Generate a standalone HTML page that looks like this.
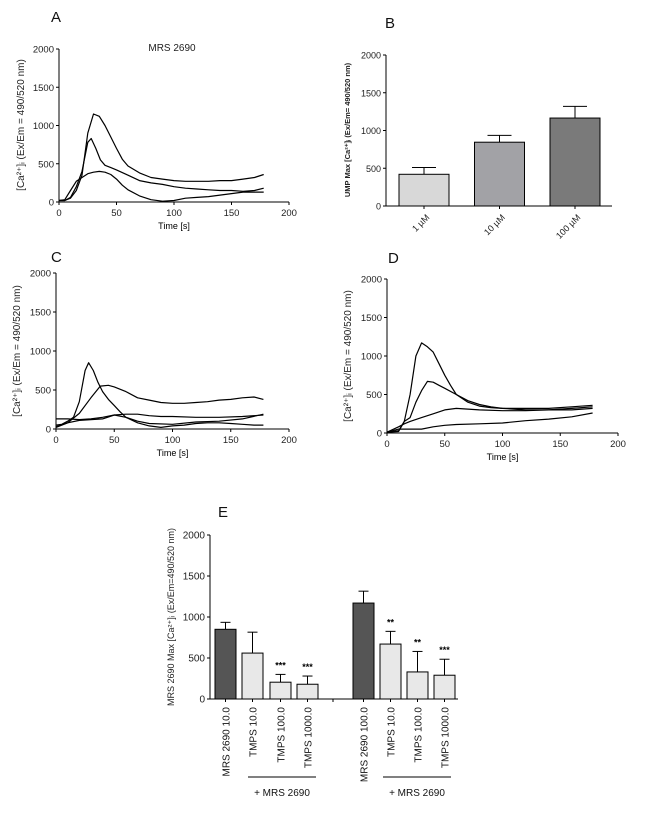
<!DOCTYPE html>
<html><head><meta charset="utf-8"><style>
body{margin:0;background:#fff;}
svg{display:block;font-family:"Liberation Sans",Arial,sans-serif;}
</style></head><body>
<svg id="fig" width="650" height="817" viewBox="0 0 650 817"></svg>
<script>
// ---- Data ----
const tA1=[0,5,10,15,20,25,30,35,40,45,50,55,60,70,80,90,100,110,120,130,140,150,160,170,178];
const vA1=[20,20,50,150,350,900,1150,1120,1000,850,700,560,470,380,320,300,280,270,270,270,280,280,300,320,360];
const tA2=[0,5,10,15,20,25,28,32,36,40,45,50,60,70,80,90,100,110,120,130,140,150,160,170,178];
const vA2=[20,20,60,200,400,780,830,700,550,480,450,420,350,280,250,230,200,180,170,160,150,150,140,150,180];
const tA3=[0,5,10,15,20,25,30,35,40,45,50,55,60,70,80,90,100,110,120,130,140,150,160,170,178];
const vA3=[20,30,150,270,320,370,390,400,390,360,300,220,160,80,30,10,20,50,60,70,90,110,130,130,130];
const tC1=[0,5,10,15,20,25,28,32,36,40,45,50,55,60,70,80,90,100,110,120,130,140,150,160,170,178];
const vC1=[50,60,100,150,350,750,850,750,600,480,380,300,220,150,80,40,20,40,50,70,80,80,70,60,50,50];
const tC2=[0,10,20,30,38,45,50,60,70,80,90,100,110,120,130,140,150,160,170,178];
const vC2=[30,80,200,400,550,560,540,480,400,370,340,330,330,340,350,370,380,400,410,380];
const tC3=[0,10,20,30,40,50,60,70,80,90,100,120,140,160,178];
const vC3=[130,130,120,130,150,180,190,190,170,160,160,150,150,160,180];
const tC4=[0,10,20,30,40,50,60,70,80,100,120,140,160,178];
const vC4=[20,80,110,120,130,180,150,100,70,60,90,100,130,190];
const tD1=[0,10,15,20,25,30,35,40,45,50,55,60,65,70,80,90,100,120,140,160,178];
const vD1=[10,20,150,500,1000,1170,1120,1050,900,750,620,500,450,400,350,330,320,320,320,340,360];
const tD2=[0,10,15,20,25,30,35,40,45,50,60,70,80,90,100,120,140,160,178];
const vD2=[10,30,150,200,400,550,670,660,620,580,500,420,370,340,320,300,300,320,340];
const tD3=[0,10,15,20,30,40,50,60,70,80,100,120,140,160,178];
const vD3=[10,80,120,150,200,250,300,320,310,300,290,290,300,300,320];
const tD4=[0,10,20,30,40,50,60,80,100,120,140,160,178];
const vD4=[10,50,50,50,80,100,110,120,130,160,180,210,260];
const bCats=["1 µM","10 µM","100 µM"];
const bMeans=[420,845,1165];
const bErr=[510,935,1320];
const eCats=["MRS 2690 10.0","TMPS 10.0","TMPS 100.0","TMPS 1000.0","MRS 2690 100.0","TMPS 10.0","TMPS 100.0","TMPS 1000.0"];
const eMeans=[850,560,205,180,1170,670,330,290];
const eErr=[935,815,300,280,1315,825,580,485];
const eStars=["","","***","***","","**","**","***"];
const yTicks=[0,500,1000,1500,2000];
const xTicks=[0,50,100,150,200];

const NS="http://www.w3.org/2000/svg";
const svg=document.getElementById('fig');
function mk(tag,at,parent){const e=document.createElementNS(NS,tag);for(const k in at)e.setAttribute(k,at[k]);(parent||svg).appendChild(e);return e;}
function txt(s,at,parent){const e=mk('text',at,parent);e.textContent=s;return e;}

function yAxis(p,tickFmtSize){
  const sy=v=>p.y0-(v/2000)*(p.y0-p.y1);
  const g=mk('g',{});
  
  
  mk('line',{x1:p.x0,y1:p.y0,x2:p.x0,y2:p.y1,stroke:'#000','stroke-width':1},g);
  yTicks.forEach(t=>{mk('line',{x1:p.x0-3,y1:sy(t),x2:p.x0,y2:sy(t),stroke:'#000'},g);
    const l=txt(String(t),{x:p.x0-5,y:sy(t)+3.5,'font-size':tickFmtSize||9.5,'text-anchor':'end',fill:'#222'},g);
    
    });
  return sy;
}
function lineChart(p,series){
  const sx=v=>p.x0+(v/200)*(p.x2-p.x0);
  const sy=yAxis(p);
  const g=mk('g',{});
  
  
  mk('line',{x1:p.x0,y1:p.y0,x2:p.x2,y2:p.y0,stroke:'#000'},g);
  xTicks.forEach(t=>{mk('line',{x1:sx(t),y1:p.y0,x2:sx(t),y2:p.y0+3,stroke:'#000'},g);
    const l=txt(String(t),{x:sx(t),y:p.y0+14,'font-size':9.5,'text-anchor':'middle',fill:'#222'},g);
    
    });
  const xt=txt('Time [s]',{x:(p.x0+p.x2)/2,y:p.y0+27,'font-size':9,'text-anchor':'middle'});
  
  
  series.forEach((s,i)=>{
    const d=s[0].map((t,j)=>(j?'L':'M')+sx(t).toFixed(1)+','+sy(s[1][j]).toFixed(1)).join(' ');
    const pa=mk('path',{d:d,fill:'none',stroke:'#000','stroke-width':1.2,'stroke-linejoin':'round'});
    
    
  });
  const yt=txt('[Ca²⁺]ᵢ (Ex/Em = 490/520 nm)',{transform:`translate(${p.tx},${p.ty}) rotate(-90)`,'font-size':10,'text-anchor':'middle',fill:'#222'});
  
  
}
function panelLabel(s,x,y){const l=txt(s,{x:x,y:y,'font-size':15,fill:'#111'});
  
  }

// Panel A
panelLabel('A',51,22);
lineChart({name:'panel-a',x0:59,x2:289,y0:202,y1:49,tx:24,ty:125},[[tA1,vA1],[tA2,vA2],[tA3,vA3]]);
const ttl=txt('MRS 2690',{x:172,y:51,'font-size':10,'text-anchor':'middle',fill:'#222'});


// Panel C
panelLabel('C',51,262);
lineChart({name:'panel-c',x0:56,x2:289,y0:429,y1:273,tx:20,ty:351},[[tC1,vC1],[tC2,vC2],[tC3,vC3],[tC4,vC4]]);
// Panel D
panelLabel('D',388,263);
lineChart({name:'panel-d',x0:387,x2:618,y0:433,y1:279,tx:351,ty:356},[[tD1,vD1],[tD2,vD2],[tD3,vD3],[tD4,vD4]]);

// Panel B
panelLabel('B',385,28);
(function(){
  const p={name:'panel-b',x0:386,x2:612,y0:206,y1:55};
  const sy=yAxis(p,9);
  const g=mk('g',{});
  
  
  mk('line',{x1:p.x0,y1:p.y0,x2:p.x2,y2:p.y0,stroke:'#000'},g);
  const cols=['#d8d8d8','#a2a2a6','#7a7a7a'];
  const bw=50,step=75.5,first=399;
  bCats.forEach((c,i)=>{
    const x=first+i*step,cx=x+bw/2;
    mk('line',{x1:cx,y1:sy(bMeans[i]),x2:cx,y2:sy(bErr[i]),stroke:'#000'});
    mk('line',{x1:cx-12,y1:sy(bErr[i]),x2:cx+12,y2:sy(bErr[i]),stroke:'#000'});
    const r=mk('rect',{x:x,y:sy(bMeans[i]),width:bw,height:p.y0-sy(bMeans[i]),fill:cols[i],stroke:'#000','stroke-width':1});
    
    
    mk('line',{x1:cx,y1:p.y0,x2:cx,y2:p.y0+3,stroke:'#000'});
    const l=txt(c,{transform:`translate(${cx+6},${p.y0+12}) rotate(-45)`,'font-size':9,'text-anchor':'end',fill:'#222'});
    
    
  });
  const yt=txt('UMP Max [Ca²⁺]ᵢ (Ex/Em= 490/520 nm)',{transform:'translate(350,130) rotate(-90)','font-size':7.5,'text-anchor':'middle','font-weight':'bold',fill:'#222'});
  
  
})();

// Panel E
panelLabel('E',218,517);
(function(){
  const p={name:'panel-e',x0:210,x2:458,y0:699,y1:535};
  const sy=yAxis(p,10);
  const g=mk('g',{});
  
  
  mk('line',{x1:p.x0,y1:p.y0,x2:p.x2,y2:p.y0,stroke:'#000'},g);
  const xs=[215,242,270,297,353,380,407,434];
  const bw=21;
  eCats.forEach((c,i)=>{
    const x=xs[i],cx=x+bw/2;
    mk('line',{x1:cx,y1:sy(eMeans[i]),x2:cx,y2:sy(eErr[i]),stroke:'#000'});
    mk('line',{x1:cx-5,y1:sy(eErr[i]),x2:cx+5,y2:sy(eErr[i]),stroke:'#000'});
    const r=mk('rect',{x:x,y:sy(eMeans[i]),width:bw,height:p.y0-sy(eMeans[i]),fill:(i%4===0?'#555555':'#e8e8e8'),stroke:'#000','stroke-width':1});
    
    
    mk('line',{x1:cx,y1:p.y0,x2:cx,y2:p.y0+3,stroke:'#000'});
    if(eStars[i]){const st=txt(eStars[i],{x:cx,y:sy(eErr[i])-6,'font-size':9,'text-anchor':'middle','font-weight':'bold'});
      
      }
    const l=txt(c,{transform:`translate(${cx+4},${p.y0+8}) rotate(-90)`,'font-size':10,'text-anchor':'end',fill:'#111'});
    
    
  });
  mk('line',{x1:333,y1:p.y0,x2:333,y2:p.y0+3,stroke:'#000'});
  [[248,316],[383,451]].forEach((r,i)=>{
    mk('line',{x1:r[0],y1:777,x2:r[1],y2:777,stroke:'#000'});
    const l=txt('+ MRS 2690',{x:(r[0]+r[1])/2,y:796,'font-size':10,'text-anchor':'middle',fill:'#111'});
    
    
  });
  const yt=txt('MRS 2690 Max [Ca²⁺]ᵢ (Ex/Em=490/520 nm)',{transform:'translate(174,617) rotate(-90)','font-size':9,'text-anchor':'middle',fill:'#222'});
  
  
})();
</script>
</body></html>
